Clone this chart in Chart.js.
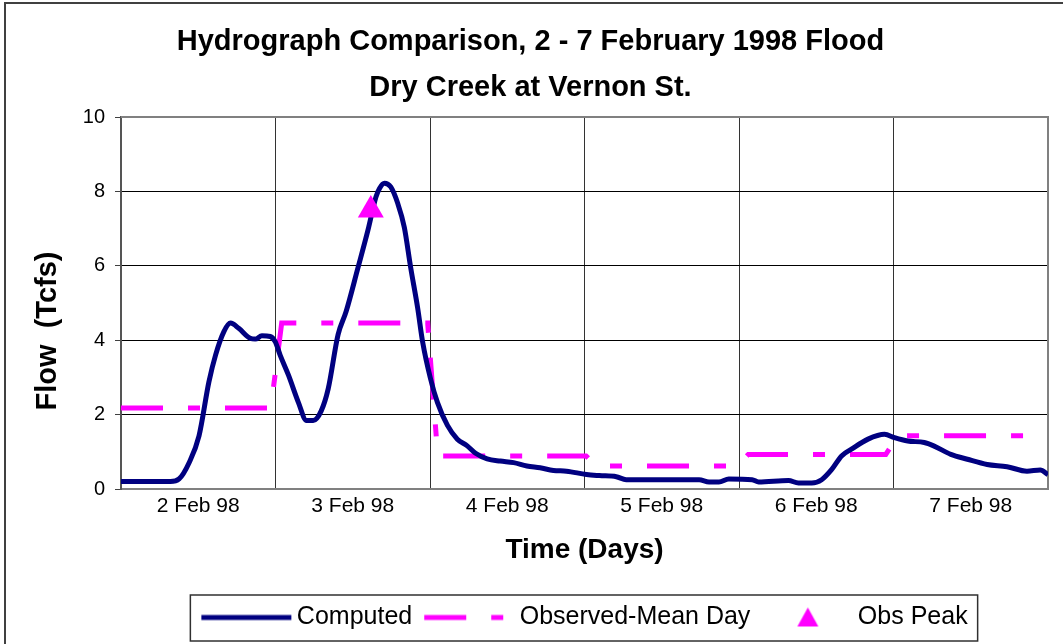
<!DOCTYPE html>
<html>
<head>
<meta charset="utf-8">
<title>Hydrograph Comparison</title>
<script src="https://cdn.jsdelivr.net/npm/chart.js@4"></script>
<style>
  html, body { margin: 0; padding: 0; background: #fff; }
</style>
</head>
<body>
<canvas id="flowChart" width="1063" height="644"></canvas>
<script>
// tick labels for the six days
const dayLabels = ['2 Feb 98', '3 Feb 98', '4 Feb 98', '5 Feb 98', '6 Feb 98', '7 Feb 98'];

// computed hydrograph (days since 2 Feb 00:00, flow in Tcfs)
const compDays = [0, 0.32, 0.376, 0.44, 0.505, 0.569, 0.612, 0.666, 0.709, 0.762, 0.837, 0.869, 0.912, 0.966,
  0.998, 1.03, 1.084, 1.148, 1.201, 1.244, 1.296, 1.341, 1.405, 1.457, 1.534, 1.598, 1.65, 1.673, 1.705,
  1.746, 1.791, 1.834, 1.875, 1.92, 1.952, 2.003, 2.048, 2.113, 2.177, 2.241, 2.295, 2.37, 2.455, 2.541,
  2.627, 2.713, 2.799, 2.884, 3.013, 3.096, 3.206, 3.27, 3.742, 3.806, 3.87, 3.934, 4.085, 4.127, 4.32,
  4.385, 4.471, 4.535, 4.599, 4.664, 4.728, 4.835, 4.942, 5.006, 5.092, 5.199, 5.26, 5.371, 5.478, 5.606,
  5.735, 5.864, 5.95, 6.0];
const compFlow = [0.2, 0.2, 0.27, 0.7, 1.43, 2.88, 3.6, 4.23, 4.46, 4.32, 4.05, 4.03, 4.12, 4.1,
  3.96, 3.6, 3.06, 2.33, 1.84, 1.84, 2.1, 2.69, 4.15, 4.77, 5.95, 6.95, 7.85, 8.08, 8.22,
  8.12, 7.68, 7.03, 5.95, 4.87, 3.96, 2.97, 2.33, 1.71, 1.34, 1.16, 0.96, 0.81, 0.75, 0.71,
  0.62, 0.57, 0.5, 0.48, 0.39, 0.36, 0.33, 0.25, 0.25, 0.19, 0.19, 0.27, 0.25, 0.19, 0.23,
  0.16, 0.16, 0.25, 0.52, 0.89, 1.07, 1.34, 1.47, 1.38, 1.29, 1.25, 1.16, 0.93, 0.8, 0.66,
  0.6, 0.48, 0.51, 0.39];

// observed mean daily flow
const obsDays = [0, 0.97, 1.04, 1.985, 2.05, 3.01, 3.075, 3.99, 4.06, 4.95, 5.03, 6];
const obsFlow = [2.18, 2.18, 4.46, 4.46, 0.89, 0.89, 0.62, 0.62, 0.93, 0.93, 1.43, 1.43];

// observed peak
const peakDays = [1.617];
const peakFlow = [7.5];

const navy = '#000080';
const magenta = '#FF00FF';
const dash = [42, 25, 12, 25];

Chart.defaults.font.family = '"Liberation Sans", Arial, sans-serif';
Chart.defaults.color = '#000';

const toPoints = (xs, ys) => xs.map((x, i) => ({ x: x, y: ys[i] }));

// little canvases used as legend symbols
function symbol(draw) {
  const c = document.createElement('canvas');
  c.width = 99;
  c.height = 28;
  draw(c.getContext('2d'));
  return c;
}
const legendSymbols = [
  symbol(g => {
    g.strokeStyle = navy; g.lineWidth = 5;
    g.beginPath(); g.moveTo(8, 14); g.lineTo(98, 14); g.stroke();
  }),
  symbol(g => {
    g.strokeStyle = magenta; g.lineWidth = 5; g.setLineDash(dash);
    g.beginPath(); g.moveTo(8, 14); g.lineTo(98, 14); g.stroke();
  }),
  symbol(g => {
    g.fillStyle = magenta;
    g.beginPath(); g.moveTo(53.5, 4); g.lineTo(64, 23); g.lineTo(43, 23); g.closePath(); g.fill();
  })
];

// plot frame, outer border, y title and legend box
const decorations = {
  id: 'decorations',
  beforeDatasetsDraw(chart) {
    const { ctx, chartArea: a } = chart;
    ctx.save();
    ctx.strokeStyle = '#808080';
    ctx.lineWidth = 2;
    ctx.beginPath();
    ctx.moveTo(a.left, a.top);
    ctx.lineTo(a.right, a.top);
    ctx.lineTo(a.right, a.bottom);
    ctx.stroke();
    ctx.restore();
  },
  afterDraw(chart) {
    const { ctx, chartArea: a } = chart;
    ctx.save();
    ctx.strokeStyle = '#404040';
    ctx.lineWidth = 2;
    ctx.strokeRect(5, 3, chart.width + 20, chart.height + 20);

    ctx.font = 'bold 29px "Liberation Sans", Arial, sans-serif';
    ctx.fillStyle = '#000';
    ctx.textAlign = 'center';
    ctx.textBaseline = 'middle';
    ctx.translate(48, (a.top + a.bottom) / 2 + 28);
    ctx.rotate(-Math.PI / 2);
    ctx.fillText('Flow  (Tcfs)', 0, 0);
    ctx.restore();

    const boxes = chart.legend.legendHitBoxes;
    if (boxes && boxes.length) {
      const first = boxes[0];
      const last = boxes[boxes.length - 1];
      const l = first.left - 11;
      const r = last.left + last.width + 10;
      const t = first.top - 10;
      const b = first.top + first.height + 11;
      ctx.save();
      ctx.strokeStyle = '#303030';
      ctx.lineWidth = 1.5;
      ctx.strokeRect(l, t, r - l, b - t);
      ctx.restore();
    }
  }
};

new Chart(document.getElementById('flowChart'), {
  type: 'line',
  data: {
    datasets: [
      {
        label: 'Computed',
        data: toPoints(compDays, compFlow),
        borderColor: navy,
        borderWidth: 5,
        pointRadius: 0,
        cubicInterpolationMode: 'monotone',
        xAxisID: 'x',
        yAxisID: 'y',
        order: 1
      },
      {
        label: 'Observed-Mean Day',
        data: toPoints(obsDays, obsFlow),
        borderColor: magenta,
        borderWidth: 5,
        borderDash: dash,
        pointRadius: 0,
        tension: 0,
        xAxisID: 'x',
        yAxisID: 'y',
        order: 2
      },
      {
        label: 'Obs Peak',
        data: toPoints(peakDays, peakFlow),
        showLine: false,
        pointStyle: 'triangle',
        pointRadius: 15,
        borderWidth: 0,
        backgroundColor: magenta,
        borderColor: magenta,
        xAxisID: 'x',
        yAxisID: 'y',
        order: 0
      }
    ]
  },
  options: {
    responsive: false,
    animation: false,
    events: [],
    layout: { padding: { left: 6, right: 8, top: 3, bottom: 4 } },
    scales: {
      x: { type: 'linear', display: false, min: 0, max: 6 },
      xl: {
        type: 'category',
        labels: dayLabels,
        position: 'bottom',
        offset: true,
        grid: { offset: true, color: '#333', lineWidth: 1, drawTicks: false },
        border: { color: '#808080', width: 2 },
        ticks: { font: { size: 21 }, color: '#000', padding: 5, maxRotation: 0, autoSkip: false },
        title: {
          display: true,
          text: 'Time (Days)',
          font: { size: 28, weight: 'bold' },
          color: '#000',
          padding: { top: 0, bottom: 26 }
        },
        afterFit(scale) { scale.height = 104; }
      },
      y: {
        min: 0,
        max: 10,
        ticks: { stepSize: 2, font: { size: 20 }, color: '#000', padding: 10 },
        grid: { color: '#000', lineWidth: 1, tickLength: 6, tickColor: '#404040' },
        border: { color: '#555', width: 2 },
        afterFit(scale) { scale.width = 115; }
      }
    },
    plugins: {
      title: {
        display: true,
        text: ['Hydrograph Comparison, 2 - 7 February 1998 Flood', 'Dry Creek at Vernon St.'],
        font: { size: 29, weight: 'bold', lineHeight: '46px' },
        color: '#000',
        padding: { top: 16, bottom: 6 }
      },
      legend: {
        position: 'bottom',
        fullSize: false,
        labels: {
          usePointStyle: true,
          pointStyleWidth: 83,
          font: { size: 25 },
          color: '#000',
          padding: 12,
          generateLabels(chart) {
            const items = Chart.defaults.plugins.legend.labels.generateLabels(chart);
            items.sort((a, b) => a.datasetIndex - b.datasetIndex);
            return items.map(item => Object.assign(item, { pointStyle: legendSymbols[item.datasetIndex] }));
          }
        }
      },
      tooltip: { enabled: false }
    }
  },
  plugins: [decorations]
});
</script>
</body>
</html>
